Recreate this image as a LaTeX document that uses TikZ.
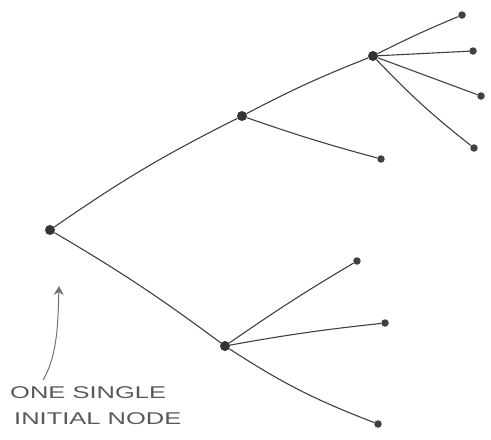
\documentclass[tikz,border=0pt]{standalone}
\usepackage{fontspec}
\setmainfont{Liberation Sans}
\usetikzlibrary{arrows.meta}
\begin{document}
\begin{tikzpicture}[x=1pt,y=-1pt,
  hub/.style={circle,fill=black!80,inner sep=0pt,minimum size=10pt},
  leaf/.style={circle,fill=black!75,inner sep=0pt,minimum size=7.5pt},
  edge/.style={draw=black!75,line width=1.1pt},
  lbl/.style={text=black!65,anchor=west,inner sep=0pt,font=\fontsize{17}{20}\selectfont}]
\useasboundingbox (0,0) rectangle (491,440);
\node[hub] (r) at (50,230) {};
\node[hub] (u) at (242,116) {};
\node[hub] (uu) at (373,56) {};
\node[leaf] (a1) at (462,15) {};
\node[leaf] (a2) at (473,51) {};
\node[leaf] (a3) at (481,96) {};
\node[leaf] (a4) at (474,148) {};
\node[leaf] (b1) at (381,159) {};
\node[hub] (l) at (225,346) {};
\node[leaf] (c1) at (357,261) {};
\node[leaf] (c2) at (385,323) {};
\node[leaf] (c3) at (378,424) {};
\draw[edge] (r) to[bend left=4] (u);
\draw[edge] (u) to[bend left=3] (uu);
\draw[edge] (uu) to[bend left=2] (a1);
\draw[edge] (uu) -- (a2);
\draw[edge] (uu) -- (a3);
\draw[edge] (uu) to[bend right=4] (a4);
\draw[edge] (u) to[bend right=2] (b1);
\draw[edge] (r) to[bend left=3] (l);
\draw[edge] (l) to[bend left=2] (c1);
\draw[edge] (l) to[bend left=2] (c2);
\draw[edge] (l) to[bend right=6] (c3);
\coordinate (t0) at (43,380);
\coordinate (t1) at (59,286);
\draw[draw=black!55,line width=1pt,-{Stealth[length=9pt,width=10pt]}] (t0) .. controls (58,355) and (58,320) .. (t1);
\node[lbl] (n1) at (10,393) {\scalebox{1.5}[1]{ONE SINGLE}};
\node[lbl] (n2) at (14,419) {\scalebox{1.5}[1]{INITIAL NODE}};
\end{tikzpicture}
\end{document}
